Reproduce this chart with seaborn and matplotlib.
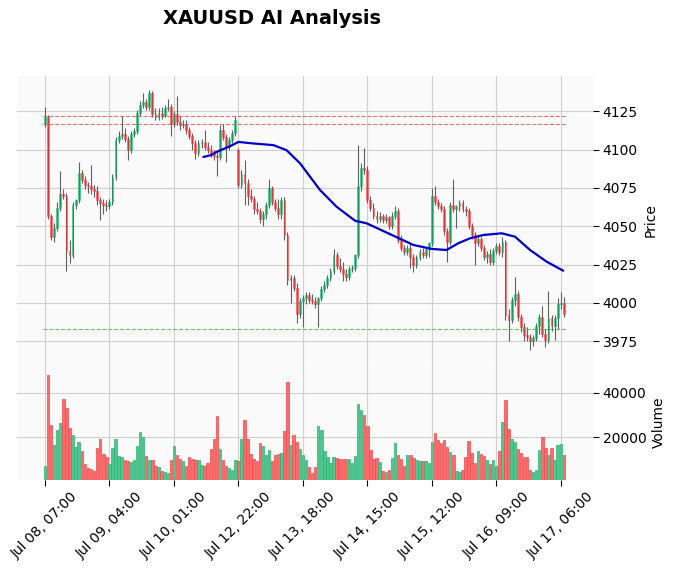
import matplotlib
matplotlib.use("Agg")
import matplotlib.pyplot as plt
import numpy as np
import pandas as pd
import seaborn as sns

title = "XAUUSD AI Analysis"
tick_labels = ["Jul 08, 07:00", "Jul 09, 04:00", "Jul 10, 01:00", "Jul 12, 22:00",
               "Jul 13, 18:00", "Jul 14, 15:00", "Jul 15, 12:00", "Jul 16, 09:00",
               "Jul 17, 06:00"]

opens = [4116.5, 4121.5, 4057, 4043, 4049, 4062, 4071, 4070, 4034, 4031,
         4064, 4067, 4085, 4080, 4077, 4076, 4074, 4073, 4067, 4065,
         4064, 4063, 4066, 4082, 4106, 4109, 4110, 4107, 4100, 4110,
         4112, 4124, 4129, 4131, 4128, 4137, 4123, 4121, 4124, 4122,
         4127, 4128, 4117, 4123, 4118, 4116, 4117, 4113, 4109, 4104,
         4098, 4104, 4105, 4102, 4100, 4097, 4096, 4095, 4113, 4108,
         4102, 4106, 4111, 4100, 4077, 4084, 4078, 4070, 4068, 4061,
         4060, 4055, 4058, 4064, 4075, 4066, 4062, 4058, 4067, 4044,
         4015, 4016, 4010, 3993, 4001, 4003, 4005, 4002, 4001, 3999,
         4003, 4009, 4012, 4016, 4021, 4031, 4024, 4022, 4019, 4017,
         4022, 4023, 4031, 4076, 4088, 4087, 4067, 4062, 4057, 4055,
         4057, 4054, 4056, 4050, 4057, 4060, 4041, 4036, 4033, 4036,
         4030, 4025, 4030, 4033, 4031, 4035, 4039, 4070, 4066, 4063,
         4061, 4047, 4040, 4064, 4061, 4063, 4065, 4061, 4060, 4050,
         4044, 4039, 4042, 4036, 4030, 4032, 4027, 4034, 4037, 4033,
         4040, 3992, 3989, 4002, 4006, 3991, 3984, 3979, 3978, 3975,
         3977, 3985, 3991, 3980, 3976, 3990, 3985, 3990, 3999, 4000]
highs = [4128, 4122.5, 4058, 4052, 4066, 4086, 4074, 4072, 4041, 4066,
         4068, 4092, 4087, 4083, 4079, 4090, 4077, 4076, 4069, 4068,
         4067, 4068, 4084, 4108, 4112, 4122, 4114, 4109, 4112, 4114,
         4126, 4132, 4137, 4133, 4139, 4138, 4127, 4127, 4128, 4129,
         4133, 4130, 4125, 4135, 4122, 4119, 4119, 4115, 4111, 4106,
         4106, 4107, 4113, 4105, 4103, 4100, 4099, 4116, 4117, 4110,
         4108, 4113, 4122, 4101, 4087, 4093, 4081, 4074, 4070, 4066,
         4062, 4060, 4066, 4081, 4076, 4068, 4068, 4069, 4069, 4046,
         4018, 4018, 4013, 4003, 4005, 4007, 4007, 4006, 4004, 4004,
         4011, 4014, 4018, 4023, 4035, 4033, 4029, 4027, 4022, 4024,
         4025, 4032, 4103, 4091, 4101, 4089, 4070, 4065, 4060, 4059,
         4058, 4058, 4057, 4059, 4063, 4062, 4044, 4038, 4038, 4039,
         4032, 4031, 4035, 4036, 4036, 4040, 4075, 4076, 4068, 4065,
         4063, 4049, 4066, 4081, 4064, 4067, 4067, 4063, 4062, 4052,
         4046, 4044, 4043, 4038, 4034, 4035, 4036, 4039, 4039, 4043,
         4041, 3996, 4004, 4017, 4008, 3993, 3987, 3984, 3980, 3979,
         3987, 3993, 3998, 3983, 4008, 3992, 3992, 4003, 4007, 4004]
lows = [4115, 4055, 4041, 4040, 4047, 4060, 4068, 4021, 4026, 4029,
        4061, 4065, 4078, 4074, 4072, 4071, 4069, 4064, 4054, 4058,
        4060, 4061, 4064, 4080, 4104, 4107, 4105, 4093, 4098, 4108,
        4110, 4122, 4127, 4126, 4126, 4121, 4119, 4119, 4120, 4121,
        4125, 4109, 4115, 4116, 4113, 4114, 4110, 4107, 4100, 4094,
        4096, 4101, 4100, 4098, 4095, 4093, 4083, 4093, 4106, 4092,
        4100, 4104, 4109, 4075, 4075, 4064, 4064, 4066, 4058, 4058,
        4052, 4050, 4055, 4062, 4064, 4060, 4055, 4055, 4041, 4012,
        4000, 4008, 3987, 3990, 3984, 3999, 4000, 3999, 3997, 3984,
        4001, 4007, 4010, 4014, 4019, 4022, 4020, 4014, 4014, 4015,
        4020, 4021, 4029, 4073, 4084, 4065, 4060, 4055, 4052, 4053,
        4052, 4052, 4048, 4048, 4055, 4039, 4034, 4031, 4031, 4023,
        4020, 4023, 4028, 4029, 4029, 4030, 4037, 4064, 4061, 4059,
        4044, 4027, 4038, 4059, 4049, 4060, 4059, 4057, 4048, 4042,
        4025, 4037, 4034, 4028, 4026, 4025, 4025, 4032, 4031, 4030,
        3989, 3975, 3987, 3998, 3988, 3981, 3975, 3975, 3969, 3972,
        3975, 3980, 3978, 3971, 3974, 3982, 3976, 3983, 3996, 3991]
closes = [4121.5, 4057, 4043, 4049, 4062, 4071, 4070, 4034, 4031, 4064,
          4067, 4085, 4080, 4077, 4076, 4074, 4073, 4067, 4065, 4064,
          4063, 4066, 4082, 4106, 4109, 4110, 4107, 4100, 4110, 4112,
          4124, 4129, 4131, 4128, 4137, 4123, 4121, 4124, 4122, 4127,
          4128, 4117, 4123, 4118, 4116, 4117, 4113, 4109, 4104, 4098,
          4104, 4105, 4102, 4100, 4097, 4096, 4095, 4113, 4108, 4102,
          4106, 4111, 4119, 4077, 4084, 4078, 4070, 4068, 4061, 4060,
          4055, 4058, 4064, 4075, 4066, 4062, 4058, 4067, 4044, 4015,
          4016, 4010, 3993, 4001, 4003, 4005, 4002, 4001, 3999, 4003,
          4009, 4012, 4016, 4021, 4031, 4024, 4022, 4019, 4017, 4022,
          4023, 4031, 4076, 4088, 4087, 4067, 4062, 4057, 4055, 4057,
          4054, 4056, 4050, 4057, 4060, 4041, 4036, 4033, 4036, 4030,
          4025, 4030, 4033, 4031, 4035, 4039, 4070, 4066, 4063, 4061,
          4047, 4040, 4064, 4061, 4063, 4065, 4061, 4060, 4050, 4044,
          4039, 4042, 4036, 4030, 4032, 4027, 4034, 4037, 4033, 4040,
          3992, 3989, 4002, 4006, 3991, 3984, 3979, 3978, 3975, 3977,
          3985, 3991, 3980, 3976, 3990, 3985, 3990, 3999, 4000, 3993]
volumes = [7100, 48000, 25800, 16400, 23500, 26600, 37300, 33300, 24400, 20900,
           15500, 17800, 13800, 8000, 6500, 5800, 4900, 15100, 19500, 12400,
           11100, 8000, 15100, 19500, 11500, 11100, 10000, 9300, 8900, 9800,
           16000, 22600, 20000, 11600, 9800, 9800, 7100, 6700, 4900, 4500,
           4000, 9800, 16000, 12000, 10200, 9300, 7100, 11200, 10200, 9800,
           9800, 7500, 7100, 8400, 14700, 19100, 29800, 14700, 9800, 7100,
           6500, 5300, 10000, 9300, 19100, 28000, 19100, 12400, 10500, 9300,
           17300, 16000, 12000, 14200, 9600, 12000, 12400, 13100, 23100, 44800,
           16400, 21300, 18000, 14700, 12000, 10000, 6700, 4200, 6700, 25300,
           23500, 13900, 11100, 8600, 11000, 10600, 10200, 10400, 10500, 10200,
           8700, 11500, 35100, 32400, 30200, 25300, 14200, 10200, 10600, 9000,
           4900, 4400, 5300, 10600, 17300, 11900, 10200, 7100, 11900, 11900,
           10600, 10000, 9500, 9300, 9300, 8700, 17800, 21800, 18700, 17300,
           18700, 15500, 13600, 12100, 5000, 4700, 5300, 11000, 18200, 12800,
           8600, 13700, 12600, 11500, 10000, 8200, 10000, 7100, 13700, 27100,
           36900, 24000, 19500, 18000, 15000, 12800, 11100, 11100, 5300, 4500,
           5300, 14200, 20000, 15100, 12000, 15100, 9800, 16400, 16900, 12000]

# moving-average line (bar index, value)
ma_idx = [51.6, 54.1, 55.9, 60.3, 63.0, 67.9, 74.4, 78.7, 83.1, 89.6, 95.0,
          101.0, 104.8, 114.6, 120.0, 126.0, 130.8, 134.6, 138.4, 142.8,
          148.8, 153.1, 158.0, 163.4, 168.8]
ma_val = [4095.2, 4096.4, 4098.5, 4102.2, 4105.0, 4104.0, 4102.9, 4099.6,
          4091.0, 4073.6, 4062.7, 4053.6, 4051.9, 4042.8, 4037.8, 4035.2,
          4034.5, 4038.9, 4042.1, 4044.3, 4045.4, 4043.2, 4034.5, 4026.9,
          4021.0]

resistance_levels = [4121.7, 4116.5]
support_levels = [3983.0]

price_ticks = [3975, 4000, 4025, 4050, 4075, 4100, 4125]
volume_ticks = [20000, 40000]

sns.set_theme(style="whitegrid", rc={
    "axes.facecolor": "#fafafa",
    "figure.facecolor": "white",
    "grid.color": "#d0d0d0",
    "grid.linestyle": "-",
    "grid.linewidth": 0.8,
    "axes.edgecolor": "#e4e4e4",
    "text.color": "black",
    "axes.labelcolor": "black",
    "xtick.color": "black",
    "ytick.color": "black",
})
plt.rcParams["font.family"] = ["DejaVu Sans"]

df = pd.DataFrame({"open": opens, "high": highs, "low": lows,
                   "close": closes, "volume": volumes})
df["idx"] = np.arange(len(df))
n = len(df)

W, H = 675, 570
fig = plt.figure(figsize=(W / 100, H / 100), dpi=100)
ax = fig.add_axes([17 / W, 1 - 365 / H, 576 / W, 289 / H])
axv = fig.add_axes([17 / W, 1 - 480 / H, 576 / W, 115 / H], sharex=ax)

up = df["close"] >= df["open"]
ccol = np.where(up, "#00b060", "#fe3032")
body = (df["close"] - df["open"]).abs().clip(lower=0.3)
ax.vlines(df["idx"], df["low"], df["high"], color="#606060", lw=0.8, zorder=2)
ax.bar(df["idx"], body, bottom=np.minimum(df["open"], df["close"]), width=0.6,
       color=ccol, edgecolor=ccol, lw=0.4, alpha=0.75, zorder=3)

sns.lineplot(x=ma_idx, y=ma_val, ax=ax, color="#0000cd", lw=1.6, zorder=4,
             sort=False, estimator=None)

ax.hlines(resistance_levels, -0.5, n, colors="#d9534f", linestyles="--", lw=0.8,
          alpha=0.8, zorder=3)
ax.hlines(support_levels, -0.5, n, colors="#4cae4c", linestyles="--", lw=0.8,
          alpha=0.8, zorder=3)

prev = df["close"].shift(1).fillna(df["open"])
vup = df["close"] >= prev
vcol = np.where(vup, "#4dc790", "#fd6b6c")
vedge = np.where(vup, "#2fb070", "#f04a4c")
axv.bar(df["idx"], df["volume"], width=0.8, color=vcol, edgecolor=vedge,
        lw=0.5, zorder=3)

tick_pos = np.arange(0, n, 21)
ax.set_xlim(-9.1, 178.5)
ax.set_ylim(3959.5, 4148)
axv.set_ylim(900, 52500)
ax.set_xticks(tick_pos)
axv.set_xticks(tick_pos)
axv.set_xticklabels(tick_labels, rotation=45, ha="center", fontsize=10)
ax.tick_params(axis="x", labelbottom=False, length=0)
axv.tick_params(axis="x", length=4, width=0.8, color="black", bottom=True,
                direction="out", pad=3)

for a, ticks, lab in ((ax, price_ticks, "Price"), (axv, volume_ticks, "Volume")):
    a.yaxis.tick_right()
    a.yaxis.set_label_position("right")
    a.set_yticks(ticks)
    a.set_ylabel(lab, fontsize=10)
    a.tick_params(axis="y", length=4, width=0.8, color="black", right=True,
                  left=False, labelsize=10, direction="out", pad=3)
    a.set_xlabel("")
    for s in a.spines.values():
        s.set_visible(False)
    a.grid(True, color="#d0d0d0", lw=0.8)
    a.set_axisbelow(True)

fig.text(272 / W, 1 - 18 / H, title, ha="center", va="center",
         fontsize=14, fontweight="bold", color="black")

fig.savefig("out.png", dpi=100)
